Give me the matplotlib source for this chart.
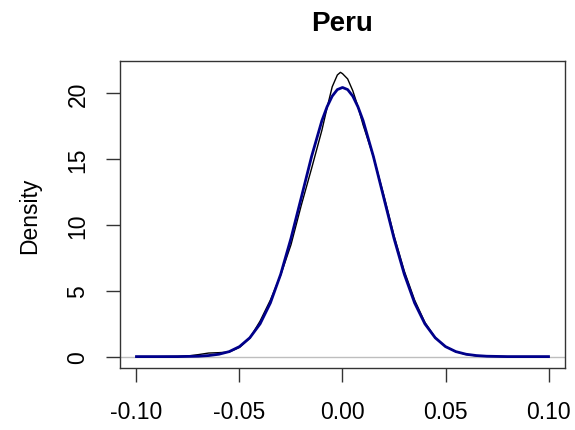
import matplotlib
matplotlib.use("Agg")
import matplotlib.pyplot as plt

plt.rcParams["font.family"] = ["Liberation Sans", "DejaVu Sans"]

# kernel density of returns (black)
x_kde = [-0.10, -0.09, -0.08, -0.075, -0.07, -0.065, -0.06, -0.055, -0.05, -0.045,
         -0.04, -0.035, -0.03, -0.025, -0.02, -0.015, -0.01, -0.0075, -0.005, -0.0025,
         -0.001, 0.0, 0.0025, 0.005, 0.0075, 0.01, 0.015, 0.02, 0.025, 0.03,
         0.035, 0.04, 0.045, 0.05, 0.055, 0.06, 0.065, 0.07, 0.08, 0.09, 0.10]
y_kde = [0.0, 0.0, 0.02, 0.05, 0.15, 0.27, 0.3, 0.35, 0.7, 1.4,
         2.7, 4.3, 6.2, 8.5, 11.5, 14.3, 17.2, 18.9, 20.5, 21.4,
         21.6, 21.5, 21.1, 20.2, 19.0, 17.6, 15.2, 12.3, 9.2, 6.5,
         4.3, 2.6, 1.45, 0.75, 0.38, 0.16, 0.06, 0.02, 0.0, 0.0, 0.0]

# fitted normal density (blue)
x_norm = [-0.10, -0.09, -0.08, -0.07, -0.065, -0.06, -0.055, -0.05, -0.045, -0.04,
          -0.035, -0.03, -0.025, -0.02, -0.015, -0.01, -0.0075, -0.005, -0.0025, 0.0,
          0.0025, 0.005, 0.0075, 0.01, 0.015, 0.02, 0.025, 0.03, 0.035, 0.04,
          0.045, 0.05, 0.055, 0.06, 0.065, 0.07, 0.08, 0.09, 0.10]
y_norm = [0.0, 0.0, 0.0, 0.03, 0.08, 0.18, 0.38, 0.76, 1.43, 2.49,
          4.08, 6.26, 8.99, 12.09, 15.21, 17.93, 18.98, 19.79, 20.29, 20.45,
          20.29, 19.79, 18.98, 17.93, 15.21, 12.09, 8.99, 6.26, 4.08, 2.49,
          1.43, 0.76, 0.38, 0.18, 0.08, 0.03, 0.0, 0.0, 0.0]

x_ticks = [-0.10, -0.05, 0.00, 0.05, 0.10]
x_labels = ["-0.10", "-0.05", "0.00", "0.05", "0.10"]
y_ticks = [0, 5, 10, 15, 20]

fig = plt.figure(figsize=(5.75, 4.31), dpi=100)
ax = fig.add_axes([0.2087, 0.1439, 0.7739, 0.7122])

ax.axhline(0, color="#bebebe", lw=1)
ax.plot(x_kde, y_kde, color="black", lw=1)
ax.plot(x_norm, y_norm, color="#00008B", lw=2)

ax.set_xlim(-0.108, 0.108)
ax.set_ylim(-0.864, 22.46)
ax.set_xticks(x_ticks)
ax.set_xticklabels(x_labels)
ax.set_yticks(y_ticks)
ax.set_yticklabels([str(v) for v in y_ticks], rotation=90, va="center")
ax.tick_params(axis="both", labelsize=16.5, length=10, width=1, color="#333333")
ax.tick_params(axis="x", pad=13)
ax.tick_params(axis="y", pad=12)
for s in ax.spines.values():
    s.set_linewidth(1)
    s.set_color("#333333")

ax.set_ylabel("Density", fontsize=16.5, labelpad=18)
ax.set_title("Peru", fontsize=20, fontweight="bold", pad=22)

fig.savefig("out.png", dpi=100)
